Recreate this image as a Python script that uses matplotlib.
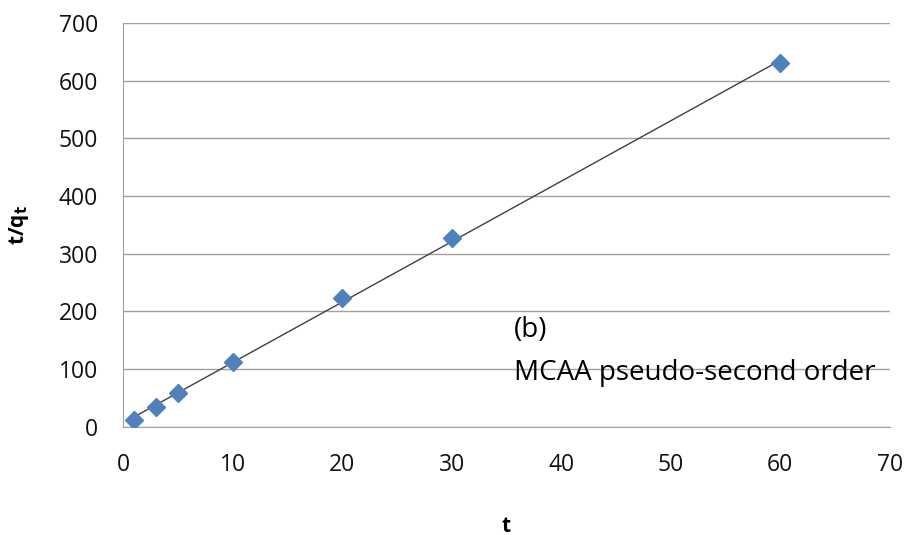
import numpy as np
import matplotlib.pyplot as plt

t = [1, 3, 5, 10, 20, 30, 60]
t_qt = [11.3, 34.4, 57.6, 112.4, 223, 326.5, 630]

plt.rcParams['font.family'] = ['Open Sans', 'DejaVu Sans']

fig = plt.figure(figsize=(9.08, 5.35), dpi=100)
ax = fig.add_axes([0.1355, 0.2028, 0.8445, 0.7542])

# linear trendline over the data range
slope, icpt = np.polyfit(t, t_qt, 1)
xs = np.array([min(t), max(t)])
ax.plot(xs, slope * xs + icpt, color='#404040', lw=1.0, zorder=3)
ax.plot(t, t_qt, linestyle='none', marker='D', color='#4F81BD',
        markersize=9.5, zorder=4)

ax.set_xlim(0, 70)
ax.set_ylim(0, 700)
ax.set_xticks(range(0, 71, 10))
ax.set_yticks(range(0, 701, 100))
ax.yaxis.grid(True, color='#A0A0A0', lw=1.0)
ax.set_axisbelow(True)
for s in ['top', 'right']:
    ax.spines[s].set_visible(False)
for s in ['left', 'bottom']:
    ax.spines[s].set_color('#A0A0A0')
ax.tick_params(length=0, labelsize=16.5, colors='#111111')
ax.tick_params(axis='y', pad=18)
ax.tick_params(axis='x', pad=19)

ax.set_xlabel('t', fontsize=15, fontweight='bold', labelpad=28)
ax.set_ylabel('t/q$_\\mathbf{t}$', fontsize=15, fontweight='bold', labelpad=20)

ax.text(35.7, 167, '(b)', fontsize=20, va='center')
ax.text(35.7, 93, 'MCAA pseudo-second order', fontsize=20, va='center')

fig.savefig('out.png', dpi=100)
